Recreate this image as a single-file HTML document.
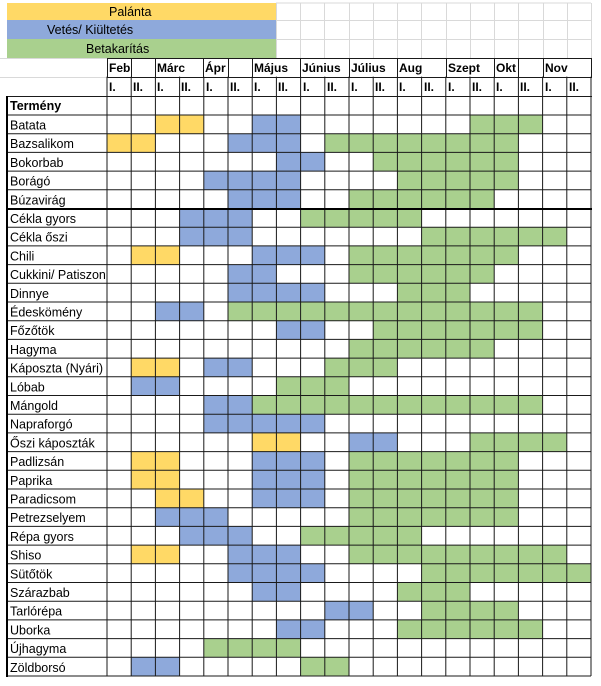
<!DOCTYPE html>
<html><head><meta charset="utf-8">
<style>
html,body{margin:0;padding:0;background:#fff;}
svg{display:block;font-family:"Liberation Sans",Arial,sans-serif;}
.l{font-size:12px;fill:#000;}
.c{font-size:12.5px;fill:#000;}
.b{font-size:12px;font-weight:bold;fill:#000;}
</style></head><body>
<svg width="601" height="686" viewBox="0 0 601 686" xmlns="http://www.w3.org/2000/svg">
<rect x="7" y="3" width="269" height="17" fill="#FFD966"/>
<rect x="7" y="20" width="269" height="19" fill="#8EA9DB"/>
<rect x="7" y="39" width="269" height="19" fill="#A9D08E"/>
<g stroke="#d9d9d9" stroke-width="1">
<line x1="276" y1="3" x2="591" y2="3"/>
<line x1="276" y1="20.5" x2="591" y2="20.5"/>
<line x1="276" y1="39.5" x2="591" y2="39.5"/>
<line x1="276.5" y1="3" x2="276.5" y2="58"/>
<line x1="300.5" y1="3" x2="300.5" y2="58"/>
<line x1="324.5" y1="3" x2="324.5" y2="58"/>
<line x1="349.5" y1="3" x2="349.5" y2="58"/>
<line x1="373.5" y1="3" x2="373.5" y2="58"/>
<line x1="397.5" y1="3" x2="397.5" y2="58"/>
<line x1="421.5" y1="3" x2="421.5" y2="58"/>
<line x1="446.5" y1="3" x2="446.5" y2="58"/>
<line x1="470.5" y1="3" x2="470.5" y2="58"/>
<line x1="494.5" y1="3" x2="494.5" y2="58"/>
<line x1="518.5" y1="3" x2="518.5" y2="58"/>
<line x1="543.5" y1="3" x2="543.5" y2="58"/>
<line x1="567.5" y1="3" x2="567.5" y2="58"/>
<line x1="591.5" y1="3" x2="591.5" y2="58"/>
<line x1="0" y1="58.5" x2="107" y2="58.5"/>
<line x1="0" y1="77.5" x2="107" y2="77.5"/>
</g>
<text class="c" x="109" y="16">Palánta</text>
<text class="c" x="47" y="34">Vetés/ Kiültetés</text>
<text class="c" x="86" y="53">Betakarítás</text>

<g transform="translate(107,115) scale(24.2,18.7)">
<rect x="2" y="0" width="2" height="1" fill="#FFD966"/><rect x="6" y="0" width="2" height="1" fill="#8EA9DB"/><rect x="15" y="0" width="3" height="1" fill="#A9D08E"/>
<rect x="0" y="1" width="2" height="1" fill="#FFD966"/><rect x="5" y="1" width="3" height="1" fill="#8EA9DB"/><rect x="9" y="1" width="8" height="1" fill="#A9D08E"/>
<rect x="7" y="2" width="2" height="1" fill="#8EA9DB"/><rect x="11" y="2" width="6" height="1" fill="#A9D08E"/>
<rect x="4" y="3" width="4" height="1" fill="#8EA9DB"/><rect x="12" y="3" width="5" height="1" fill="#A9D08E"/>
<rect x="5" y="4" width="3" height="1" fill="#8EA9DB"/><rect x="10" y="4" width="6" height="1" fill="#A9D08E"/>
<rect x="3" y="5" width="3" height="1" fill="#8EA9DB"/><rect x="8" y="5" width="5" height="1" fill="#A9D08E"/>
<rect x="3" y="6" width="3" height="1" fill="#8EA9DB"/><rect x="13" y="6" width="6" height="1" fill="#A9D08E"/>
<rect x="1" y="7" width="2" height="1" fill="#FFD966"/><rect x="6" y="7" width="3" height="1" fill="#8EA9DB"/><rect x="10" y="7" width="7" height="1" fill="#A9D08E"/>
<rect x="5" y="8" width="2" height="1" fill="#8EA9DB"/><rect x="10" y="8" width="6" height="1" fill="#A9D08E"/>
<rect x="5" y="9" width="4" height="1" fill="#8EA9DB"/><rect x="12" y="9" width="3" height="1" fill="#A9D08E"/>
<rect x="2" y="10" width="2" height="1" fill="#8EA9DB"/><rect x="5" y="10" width="13" height="1" fill="#A9D08E"/>
<rect x="7" y="11" width="2" height="1" fill="#8EA9DB"/><rect x="11" y="11" width="7" height="1" fill="#A9D08E"/>
<rect x="10" y="12" width="6" height="1" fill="#A9D08E"/>
<rect x="1" y="13" width="2" height="1" fill="#FFD966"/><rect x="4" y="13" width="2" height="1" fill="#8EA9DB"/><rect x="9" y="13" width="3" height="1" fill="#A9D08E"/>
<rect x="1" y="14" width="2" height="1" fill="#8EA9DB"/><rect x="7" y="14" width="3" height="1" fill="#A9D08E"/>
<rect x="4" y="15" width="2" height="1" fill="#8EA9DB"/><rect x="6" y="15" width="12" height="1" fill="#A9D08E"/>
<rect x="4" y="16" width="5" height="1" fill="#8EA9DB"/>
<rect x="6" y="17" width="2" height="1" fill="#FFD966"/><rect x="10" y="17" width="2" height="1" fill="#8EA9DB"/><rect x="15" y="17" width="4" height="1" fill="#A9D08E"/>
<rect x="1" y="18" width="2" height="1" fill="#FFD966"/><rect x="6" y="18" width="3" height="1" fill="#8EA9DB"/><rect x="10" y="18" width="7" height="1" fill="#A9D08E"/>
<rect x="1" y="19" width="2" height="1" fill="#FFD966"/><rect x="6" y="19" width="3" height="1" fill="#8EA9DB"/><rect x="10" y="19" width="7" height="1" fill="#A9D08E"/>
<rect x="2" y="20" width="2" height="1" fill="#FFD966"/><rect x="6" y="20" width="3" height="1" fill="#8EA9DB"/><rect x="10" y="20" width="7" height="1" fill="#A9D08E"/>
<rect x="2" y="21" width="3" height="1" fill="#8EA9DB"/><rect x="10" y="21" width="7" height="1" fill="#A9D08E"/>
<rect x="3" y="22" width="3" height="1" fill="#8EA9DB"/><rect x="8" y="22" width="5" height="1" fill="#A9D08E"/>
<rect x="1" y="23" width="2" height="1" fill="#FFD966"/><rect x="5" y="23" width="3" height="1" fill="#8EA9DB"/><rect x="10" y="23" width="9" height="1" fill="#A9D08E"/>
<rect x="5" y="24" width="4" height="1" fill="#8EA9DB"/><rect x="13" y="24" width="7" height="1" fill="#A9D08E"/>
<rect x="6" y="25" width="2" height="1" fill="#8EA9DB"/><rect x="12" y="25" width="3" height="1" fill="#A9D08E"/>
<rect x="9" y="26" width="2" height="1" fill="#8EA9DB"/><rect x="13" y="26" width="4" height="1" fill="#A9D08E"/>
<rect x="7" y="27" width="2" height="1" fill="#8EA9DB"/><rect x="12" y="27" width="6" height="1" fill="#A9D08E"/>
<rect x="4" y="28" width="4" height="1" fill="#A9D08E"/>
<rect x="1" y="29" width="2" height="1" fill="#8EA9DB"/><rect x="8" y="29" width="2" height="1" fill="#A9D08E"/>
<g stroke="#1a1a1a" stroke-width="1" fill="none">
<path vector-effect="non-scaling-stroke" d="M-4.13 0H20 M-4.13 1H20 M-4.13 2H20 M-4.13 3H20 M-4.13 4H20 M-4.13 6H20 M-4.13 7H20 M-4.13 8H20 M-4.13 9H20 M-4.13 10H20 M-4.13 11H20 M-4.13 12H20 M-4.13 13H20 M-4.13 14H20 M-4.13 15H20 M-4.13 16H20 M-4.13 17H20 M-4.13 18H20 M-4.13 19H20 M-4.13 20H20 M-4.13 21H20 M-4.13 22H20 M-4.13 23H20 M-4.13 24H20 M-4.13 25H20 M-4.13 26H20 M-4.13 27H20 M-4.13 28H20 M-4.13 29H20 M-4.13 30H20"/>
<path vector-effect="non-scaling-stroke" d="M0 -2.05V30 M1 -2.05V30 M2 -2.05V30 M3 -2.05V30 M4 -2.05V30 M5 -2.05V30 M6 -2.05V30 M7 -2.05V30 M8 -2.05V30 M9 -2.05V30 M10 -2.05V30 M11 -2.05V30 M12 -2.05V30 M13 -2.05V30 M14 -2.05V30 M15 -2.05V30 M16 -2.05V30 M17 -2.05V30 M18 -2.05V30 M19 -2.05V30 M20 -2.05V30"/>
</g>
</g>

<g stroke="#1a1a1a" stroke-width="1">
<line x1="107" y1="58.5" x2="592" y2="58.5"/>
<line x1="107" y1="77.5" x2="592" y2="77.5"/>
<line x1="7" y1="96.5" x2="592" y2="96.5"/>
<line x1="107.5" y1="58" x2="107.5" y2="77"/>
<line x1="131.5" y1="58" x2="131.5" y2="77"/>
<line x1="155.5" y1="58" x2="155.5" y2="77"/>
<line x1="203.5" y1="58" x2="203.5" y2="77"/>
<line x1="228.5" y1="58" x2="228.5" y2="77"/>
<line x1="252.5" y1="58" x2="252.5" y2="77"/>
<line x1="300.5" y1="58" x2="300.5" y2="77"/>
<line x1="349.5" y1="58" x2="349.5" y2="77"/>
<line x1="397.5" y1="58" x2="397.5" y2="77"/>
<line x1="446.5" y1="58" x2="446.5" y2="77"/>
<line x1="494.5" y1="58" x2="494.5" y2="77"/>
<line x1="518.5" y1="58" x2="518.5" y2="77"/>
<line x1="543.5" y1="58" x2="543.5" y2="77"/>
<line x1="591.5" y1="58" x2="591.5" y2="77"/>
</g>
<line x1="7" y1="96" x2="7" y2="677" stroke="#000" stroke-width="2"/>
<line x1="7" y1="209" x2="592" y2="209" stroke="#000" stroke-width="2"/>

<text class="b" x="109" y="72">Feb</text>
<text class="b" x="157" y="72">Márc</text>
<text class="b" x="205" y="72">Ápr</text>
<text class="b" x="254" y="72">Május</text>
<text class="b" x="302" y="72">Június</text>
<text class="b" x="351" y="72">Július</text>
<text class="b" x="399" y="72">Aug</text>
<text class="b" x="448" y="72">Szept</text>
<text class="b" x="496" y="72">Okt</text>
<text class="b" x="545" y="72">Nov</text>
<text class="b" x="109" y="91">I.</text><text class="b" x="133" y="91">II.</text>
<text class="b" x="157" y="91">I.</text><text class="b" x="181" y="91">II.</text>
<text class="b" x="206" y="91">I.</text><text class="b" x="230" y="91">II.</text>
<text class="b" x="254" y="91">I.</text><text class="b" x="278" y="91">II.</text>
<text class="b" x="303" y="91">I.</text><text class="b" x="327" y="91">II.</text>
<text class="b" x="351" y="91">I.</text><text class="b" x="375" y="91">II.</text>
<text class="b" x="399" y="91">I.</text><text class="b" x="424" y="91">II.</text>
<text class="b" x="448" y="91">I.</text><text class="b" x="472" y="91">II.</text>
<text class="b" x="496" y="91">I.</text><text class="b" x="520" y="91">II.</text>
<text class="b" x="545" y="91">I.</text><text class="b" x="569" y="91">II.</text>
<text class="b" x="10" y="110" style="font-size:12.5px">Termény</text>

<text class="c" x="10" y="129.5">Batata</text>
<text class="c" x="10" y="148.2">Bazsalikom</text>
<text class="c" x="10" y="166.9">Bokorbab</text>
<text class="c" x="10" y="185.6">Borágó</text>
<text class="c" x="10" y="204.3">Búzavirág</text>
<text class="c" x="10" y="223">Cékla gyors</text>
<text class="c" x="10" y="241.7">Cékla őszi</text>
<text class="c" x="10" y="260.4">Chili</text>
<text class="c" x="10" y="279.1">Cukkini/ Patiszon</text>
<text class="c" x="10" y="297.8">Dinnye</text>
<text class="c" x="10" y="316.5">Édeskömény</text>
<text class="c" x="10" y="335.2">Főzőtök</text>
<text class="c" x="10" y="353.9">Hagyma</text>
<text class="c" x="10" y="372.6">Káposzta (Nyári)</text>
<text class="c" x="10" y="391.3">Lóbab</text>
<text class="c" x="10" y="410">Mángold</text>
<text class="c" x="10" y="428.7">Napraforgó</text>
<text class="c" x="10" y="447.4">Őszi káposzták</text>
<text class="c" x="10" y="466.1">Padlizsán</text>
<text class="c" x="10" y="484.8">Paprika</text>
<text class="c" x="10" y="503.5">Paradicsom</text>
<text class="c" x="10" y="522.2">Petrezselyem</text>
<text class="c" x="10" y="540.9">Répa gyors</text>
<text class="c" x="10" y="559.6">Shiso</text>
<text class="c" x="10" y="578.3">Sütőtök</text>
<text class="c" x="10" y="597">Szárazbab</text>
<text class="c" x="10" y="615.7">Tarlórépa</text>
<text class="c" x="10" y="634.4">Uborka</text>
<text class="c" x="10" y="653.1">Újhagyma</text>
<text class="c" x="10" y="671.8">Zöldborsó</text>
</svg>
</body></html>
